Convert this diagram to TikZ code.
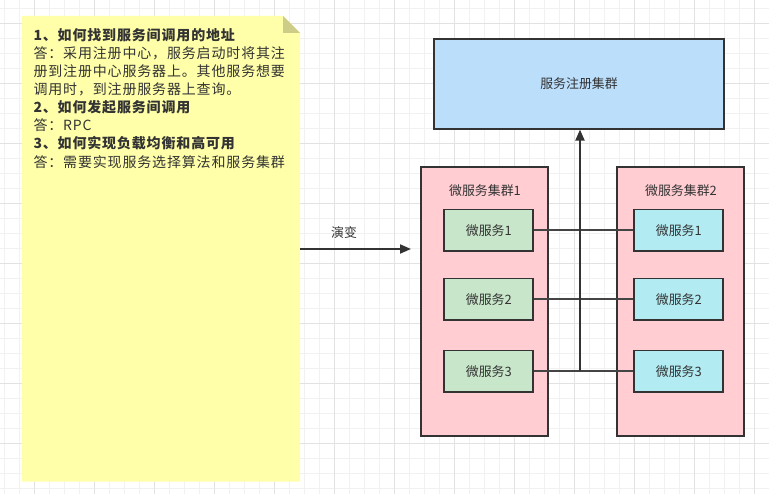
\documentclass[tikz,border=0pt]{standalone}
\usepackage{fontspec}
\setmainfont{Noto Sans CJK SC}
\newfontfamily\notefont{Noto Sans CJK SC}[LetterSpace=6]
\usetikzlibrary{arrows.meta}
\definecolor{txt}{HTML}{333333}
\definecolor{gridminor}{HTML}{F1F1F1}
\definecolor{gridmajor}{HTML}{E2E2E2}
\definecolor{notefill}{HTML}{FFFFAA}
\definecolor{notefold}{HTML}{CDCD88}
\definecolor{regfill}{HTML}{BBDEFB}
\definecolor{clfill}{HTML}{FFCDD2}
\definecolor{svgreen}{HTML}{C8E6C9}
\definecolor{svcyan}{HTML}{B2EBF2}
\definecolor{linkcol}{HTML}{444444}
\tikzset{
  boxstyle/.style={draw=txt, line width=1.8pt, text=txt, font=\fontsize{12.9}{15}\selectfont, inner sep=0pt},
  regbox/.style={boxstyle, fill=regfill, minimum width=290pt, minimum height=90pt},
  clbox/.style={boxstyle, fill=clfill, minimum width=127pt, minimum height=269pt},
  svleft/.style={boxstyle, fill=svgreen, minimum width=89pt, minimum height=41.5pt},
  svright/.style={boxstyle, fill=svcyan, minimum width=89pt, minimum height=41.5pt},
  lbl/.style={text=txt, font=\fontsize{12.9}{15}\selectfont, inner sep=0pt},
  noteline/.style={text=txt, font=\notefont\fontsize{14}{18}\selectfont, inner sep=0pt, anchor=base west},
  link/.style={draw=linkcol, line width=1.6pt},
  arr/.style={draw=txt, line width=2pt, -{Triangle[width=9pt,length=11pt]}}
}
\begin{document}
\begin{tikzpicture}[x=1pt,y=-1pt]
\useasboundingbox (0,0) rectangle (769,494);
\fill[white] (0,0) rectangle (769,494);
% grid
\foreach \i in {0,...,51} \draw[gridminor, line width=1pt] ({4.3+15*\i},0) -- ({4.3+15*\i},494);
\foreach \i in {0,...,32} \draw[gridminor, line width=1pt] (0,{8.3+15*\i}) -- (769,{8.3+15*\i});
\foreach \i in {0,...,12} \draw[gridmajor, line width=1pt] ({34.3+60*\i},0) -- ({34.3+60*\i},494);
\foreach \i in {0,...,8} \draw[gridmajor, line width=1pt] (0,{23.3+60*\i}) -- (769,{23.3+60*\i});
% note
\fill[notefill] (22,16) -- (283,16) -- (300,33) -- (300,481.5) -- (22,481.5) -- cycle;
\fill[notefold] (283,16) -- (300,33) -- (283,33) -- cycle;
\node[noteline] (n1) at (33.3,40.6) {\bfseries 1、如何找到服务间调用的地址};
\node[noteline] (n2) at (33.3,58.7) {答：采用注册中心，服务启动时将其注};
\node[noteline] (n3) at (33.3,76.7) {册到注册中心服务器上。其他服务想要};
\node[noteline] (n4) at (33.3,94.8) {调用时，到注册服务器上查询。};
\node[noteline] (n5) at (33.3,112.9) {\bfseries 2、如何发起服务间调用};
\node[noteline] (n6) at (33.3,130.9) {答：RPC};
\node[noteline] (n7) at (33.3,149.0) {\bfseries 3、如何实现负载均衡和高可用};
\node[noteline] (n8) at (33.3,167.1) {答：需要实现服务选择算法和服务集群};
% evolution arrow
\coordinate (evoS) at (300,249);
\coordinate (evoE) at (411,249);
\draw[arr] (evoS) -- (evoE);
\node[lbl] (evolbl) at (344,233) {演变};
% registry
\node[regbox] (reg) at (579,83.7) {服务注册集群};
% clusters
\node[clbox] (c1) at (484.5,301.5) {};
\node[clbox] (c2) at (680.5,301.5) {};
\node[lbl] (c1lbl) at (485,190.5) {微服务集群1};
\node[lbl] (c2lbl) at (681,190.5) {微服务集群2};
% services
\node[svleft] (s1) at (488.8,230.2) {微服务1};
\node[svleft] (s2) at (488.8,299.2) {微服务2};
\node[svleft] (s3) at (488.8,371.3) {微服务3};
\node[svright] (t1) at (678.8,230.2) {微服务1};
\node[svright] (t2) at (678.8,299.2) {微服务2};
\node[svright] (t3) at (678.8,371.3) {微服务3};
% links
\draw[link] (s1.east) -- (t1.west);
\draw[link] (s2.east) -- (t2.west);
\draw[link] (s3.east) -- (t3.west);
\coordinate (junc) at ([xshift=1pt]reg.south |- s3.east);
\draw[arr] (junc) -- (junc |- reg.south);
\end{tikzpicture}
\end{document}
